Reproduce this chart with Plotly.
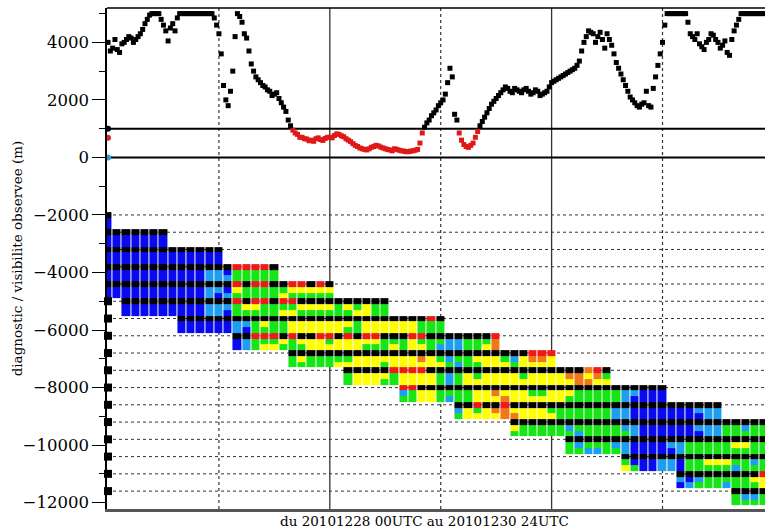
import plotly.graph_objects as go

# ---------------- data ----------------
# observed visibility (m), one value every half hour from 0 h to 71 h
OBS_STEP_H = 0.5
obs_vis = [
    4000, 3800, 3750, 3950, 4100, 4150, 4100, 4300, 4650, 4950,
    5000, 5000, 4600, 4050, 4650, 4850, 5000, 5000, 5000, 5000,
    5000, 5000, 5000, 4850, 4300, 2500, 1800, 3000, 5000, 4700,
    4150, 3250, 2800, 2600, 2450, 2300, 2200, 2050, 1750, 1300,
    950, 800, 700, 640, 600, 650, 620, 660, 700, 760,
    800, 720, 600, 480, 380, 300, 260, 350, 420, 360,
    300, 260, 300, 250, 220, 200, 230, 280, 850, 1200,
    1450, 1650, 1900, 2200, 3100, 1500, 850, 450, 350, 500,
    900, 1250, 1550, 1850, 2050, 2250, 2450, 2300, 2400, 2300,
    2350, 2300, 2250, 2300, 2200, 2300, 2600, 2700, 2800, 2900,
    3000, 3100, 3350, 4000, 4400, 4300, 4200, 4100, 4300, 3900,
    3300, 2900, 2500, 2100, 1900, 1750, 1900, 1800, 2400, 3200,
    4000, 5000, 5000, 5000, 5000, 5000, 4300, 4100, 3950, 3750,
    4100, 4250, 4000, 3900, 3650, 4100, 4600, 5000, 5000, 5000,
    5000, 5000, 5000,
]
# the observations taken between those, at 0.25 h, 0.75 h, ...
OBS_MID_OFFSET_H = 0.25
obs_vis_mid = [
    3700, 4100, 3650, 4000, 4200, 4000, 4200, 4450, 4800, 5000,
    5000, 4800, 4400, 4500, 4400, 5000, 5000, 5000, 5000, 5000,
    5000, 5000, 5000, 4600, 3600, 2000, 2300, 4200, 4900, 4300,
    3700, 3000, 2700, 2500, 2350, 2150, 2250, 1900, 1600, 1100,
    850, 700, 650, 580, 560, 680, 590, 700, 680, 820,
    750, 650, 550, 420, 330, 280, 300, 380, 400, 330,
    280, 230, 280, 230, 200, 220, 250, 500, 1050, 1300,
    1550, 1800, 2000, 2600, 2800, 1300, 600, 380, 420, 700,
    1100, 1400, 1700, 1950, 2150, 2350, 2400, 2250, 2350, 2250,
    2400, 2200, 2350, 2150, 2250, 2450, 2650, 2750, 2850, 2950,
    3050, 3200, 3700, 4200, 4350, 4000, 4350, 3800, 4100, 3600,
    3100, 2700, 2300, 2000, 1800, 1850, 2300, 1750, 2800, 3600,
    4600, 5000, 5000, 5000, 5000, 4700, 4200, 4300, 3850, 4000,
    4300, 4100, 3800, 4050, 3550, 4400, 4800, 5000, 5000, 5000,
    5000, 5000,
]
FOG_THRESHOLD = 1000

# markers drawn on the axis at hour 0
axis_obs_vals = [1000, 680, 0]
axis_obs_cols = ["#000000", "#e02020", "#3399dd"]

# diagnostic bands: one band per run, offset level, first hour, and
# three sub-rows of categories (one character per hour)
band_level = [-2000, -2600, -3200, -3800, -4400, -5000, -5600, -6200, -6800,
              -7400, -8000, -8600, -9200, -9800, -10400, -11000, -11600]
band_start = [0, 0, 0, 0, 0, 2, 8, 14, 20, 26, 32, 38, 44, 50, 56, 62, 68]
band_top = [
    "K",
    "KKKKKKK",
    "KKKKKKKKKKKKK",
    "KKKKKKKKKKKKKKRRRRK",
    "KKKKKKKKKKKKKKRKRRKKRRKRK",
    "KKKKKKKKKKKKRKRRKRRKKKKKKKKKK",
    "KKKKKKKKKKKKKKKKKKKKKKKKKKKRK",
    "KKRRRKRKKRRKRKRRKKKRRKKKKKKKR",
    "KKKKKKKKKKKKKKKKKKKKKKKKKKRRR",
    "KKKKKRRRRKKKKKKKKKKKKKKKKKORK",
    "RRKKKKKKKKKKKKKKKKKKKKKKKKKKK",
    "KKRKKRKKKKKKKKKKKKKKKKKKKKKKK",
    "KKKKKKKKKKKKKKKKKKKKKKKKKKKK",
    "KKKKKKKKKKKKKKKKKKKKKK",
    "KKKKKKKKKKKKKKKK",
    "KKKKKKKKKR",
    "KKKK",
]
band_row1 = [
    "B",
    "BBBBBBB",
    "BBBBBBBBBBBBB",
    "BBBBBBBBBBBLLBGGGGG",
    "BBBBBBBBBBBLLBYGGGGGYYYYY",
    "BBBBBBBBBLLLGYYGGGGYYYYGYGYGG",
    "BBBBBBLLGYGGYYYYYYYGYYYYYYGGG",
    "BLGGGYGYYYGYYYYYGGGYGGGLLGGGO",
    "GYGGGGGYYYYYYYOYGLGGYYYGLYOOY",
    "GYYYYGYYYYGLGYGYYYYGYYYYOOYOG",
    "LGYYGGGGYYOYYYGGYYYGGGGGLLBBB",
    "LYGYOOYYYYGGGGGGGLLBBBBBBBLLL",
    "YGGGGGLGGGGGLLBBBBBBLLLGGLGG",
    "GLGGGLLBBBBLLGGGGGYYGG",
    "GBBBLLBGGYYYGGLG",
    "LBLGGGGGYY",
    "GLLG",
]
band_row2 = [
    "B",
    "BBBBBBB",
    "BBBBBBBBBBBBB",
    "BBBBBBBBBBBLLLGGGGG",
    "BBBBBBBBBBBLBLGGGGGYGGGGG",
    "BBBBBBBBBLLBGGGGGYYGGGGGGYYGG",
    "BBBBBBLBGGGGYYYYYYGGYYYYYYGGG",
    "BLGYYGGGYYYYYYGGGYGYYGLLLGGYO",
    "GGGGGYYYYYGYYYYYYGLGGYYYGYYYY",
    "GYYYGGYYYYGLGYYYYYYYYYYYYOOYY",
    "GGYYGLGGYYYOYYYYYYGGGGGGLBBBB",
    "GYYYYOOYYYYGGGGGGLLBBBBBBBBLL",
    "GGGGGGGLGGGGGLBBBBBBBLLGGGGG",
    "GGLLGGLBBBBBLGGGGGGGGG",
    "YGBBLLBGGGGGLGGG",
    "BLGGGLGGGY",
    "GGGG",
]
SUBROW_M = 200
N_HOURS = 72

categories = ["K", "B", "L", "G", "Y", "O", "R"]
cat_colors = ["#000000", "#0a0af0", "#1e9ef0", "#16e616", "#ffff00", "#f07818", "#ee1a1a"]

vlines_dotted = [12, 36, 60]
vlines_solid = [24, 48]
hlines_solid = [1000, 0]

y_title = "diagnostic / visibilite observee (m)"
x_title = "du 20101228 00UTC au 20101230 24UTC"

# ---------------- build ----------------
FONT = "DejaVu Serif, Liberation Serif, serif"
obs_hours = [i * OBS_STEP_H for i in range(len(obs_vis))]
obs_hours_mid = [OBS_MID_OFFSET_H + i * OBS_STEP_H for i in range(len(obs_vis_mid))]
all_h = obs_hours + obs_hours_mid
all_v = obs_vis + obs_vis_mid
all_c = ["#e01818" if v < FOG_THRESHOLD else "#000000" for v in all_v]

code = {c: i for i, c in enumerate(categories)}
ys, z = [], []
for k in range(len(band_level)):
    for j, rowstr in enumerate([band_top[k], band_row1[k], band_row2[k]]):
        row = [None] * N_HOURS
        for i, ch in enumerate(rowstr):
            h = band_start[k] + i
            if h < N_HOURS:
                row[h] = code[ch]
        ys.append(band_level[k] - SUBROW_M * j)
        z.append(row)

n = len(categories)
cscale = []
for i, c in enumerate(cat_colors):
    cscale.append([i / n, c])
    cscale.append([(i + 1) / n, c])

fig = go.Figure()
fig.add_trace(go.Heatmap(
    x=list(range(N_HOURS)), y=ys, z=z,
    colorscale=cscale, zmin=-0.5, zmax=n - 0.5, showscale=False,
    xgap=1, hoverinfo="skip",
))
fig.add_trace(go.Scatter(
    x=all_h, y=all_v, mode="markers",
    marker=dict(symbol="square", size=5, color=all_c, line=dict(width=0)),
    hoverinfo="skip", cliponaxis=False,
))
fig.add_trace(go.Scatter(
    x=[0] * len(band_level[5:]), y=band_level[5:], mode="markers",
    marker=dict(symbol="square", size=8, color="#000000", line=dict(width=0)),
    hoverinfo="skip", cliponaxis=False,
))
fig.add_trace(go.Scatter(
    x=[0] * len(axis_obs_vals), y=axis_obs_vals, mode="markers",
    marker=dict(symbol="circle", size=6, color=axis_obs_cols, line=dict(width=0)),
    hoverinfo="skip", cliponaxis=False,
))

shapes = []
for lv in band_level:
    shapes.append(dict(type="line", xref="x", yref="y", x0=-0.11, x1=71.2, y0=lv, y1=lv,
                       line=dict(color="#333333", width=1, dash="dot"), layer="below"))
for xv in vlines_dotted:
    shapes.append(dict(type="line", xref="x", yref="paper", x0=xv, x1=xv, y0=0, y1=1,
                       line=dict(color="#333333", width=1.2, dash="dot"), layer="below"))
for xv in vlines_solid:
    shapes.append(dict(type="line", xref="x", yref="paper", x0=xv, x1=xv, y0=0, y1=1,
                       line=dict(color="#333333", width=1.3), layer="below"))
for yv in hlines_solid:
    shapes.append(dict(type="line", xref="paper", yref="y", x0=0, x1=1, y0=yv, y1=yv,
                       line=dict(color="#000000", width=2), layer="below"))
shapes.append(dict(type="line", xref="paper", yref="paper", x0=0, x1=1, y0=1, y1=1,
                   line=dict(color="#000000", width=1.5)))

fig.update_layout(
    width=765, height=532,
    margin=dict(l=107, r=0, t=8, b=23),
    paper_bgcolor="white", plot_bgcolor="white",
    showlegend=False,
    shapes=shapes,
    font=dict(family=FONT, color="black"),
    xaxis=dict(range=[-0.11, 71.09], showgrid=False, zeroline=False,
               showticklabels=False, ticks="", showline=True,
               linecolor="#555555", linewidth=2.5),
    yaxis=dict(range=[-12222, 5195], tick0=0, dtick=2000, ticks="outside",
               tickformat="d",
               ticklen=13, tickwidth=1.3, tickcolor="black",
               showline=True, linecolor="black", linewidth=1.5,
               showgrid=False, zeroline=False,
               tickfont=dict(family=FONT, size=16.5, color="black"),
               minor=dict(dtick=1000, tick0=0, ticks="outside", ticklen=6,
                          tickwidth=1.2, tickcolor="black", showgrid=False)),
    annotations=[
        dict(text=y_title, xref="paper", yref="paper", x=-0.137, y=0.5,
             textangle=-90, showarrow=False, xanchor="center", yanchor="middle",
             font=dict(family=FONT, size=13.5, color="black")),
        dict(text=x_title, xref="paper", yref="paper", x=0.483, y=-0.024,
             showarrow=False, xanchor="center", yanchor="middle",
             font=dict(family=FONT, size=13.5, color="black")),
    ],
)

fig.write_html("out.html")
